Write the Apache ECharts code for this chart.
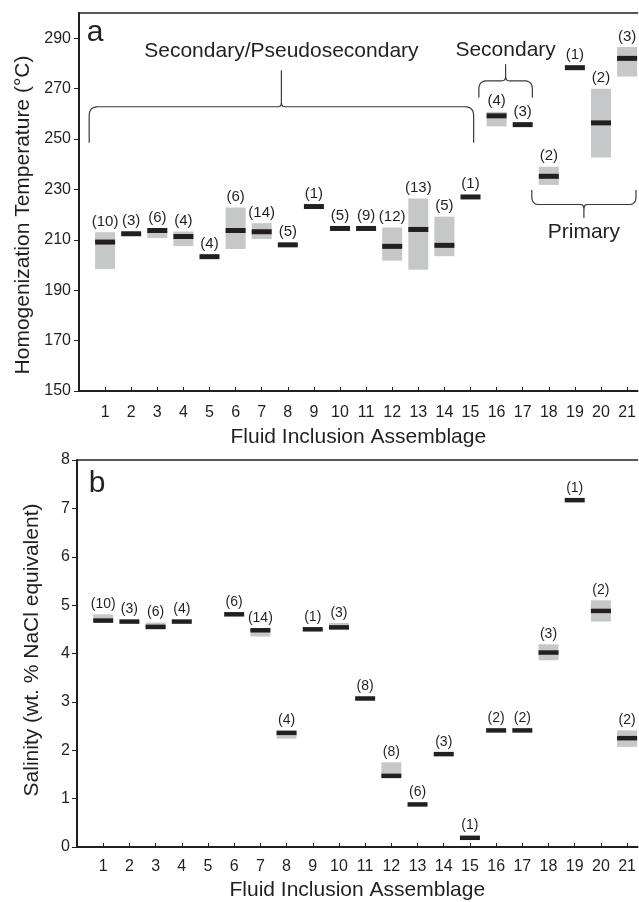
<!DOCTYPE html>
<html>
<head>
<meta charset="utf-8">
<script src="https://cdn.jsdelivr.net/npm/echarts@6/dist/echarts.min.js"></script>
<style>
  html, body { margin: 0; padding: 0; background: #fff; }
  #chart { width: 639px; height: 902px; }
</style>
</head>
<body>
<div id="chart"></div>
<script>
// fluid inclusion assemblages (FIA) 1..21
const fia = [1, 2, 3, 4, 5, 6, 7, 8, 9, 10, 11, 12, 13, 14, 15, 16, 17, 18, 19, 20, 21]

// (a) homogenization temperature, mean + range, n = number of inclusions
const tempMean = [209.1, 212.4, 213.7, 211.3, 203.3, 213.7, 213.2, 208.0, 223.2, 214.5, 214.5, 207.4, 214.1, 207.8, 227.0, 259.2, 255.7, 235.2, 278.3, 256.4, 282.0]
const tempLow  = [198.4, null, 210.7, 207.5, null, 206.3, 210.3, null, null, null, null, 201.7, 198.1, 203.5, null, 255.0, null, 231.8, null, 242.7, 274.8]
const tempHigh = [213.0, null, 214.6, 213.3, null, 222.8, 216.6, null, null, null, null, 214.9, 226.4, 219.2, null, 260.8, null, 239.0, null, 269.9, 286.5]
const tempN    = [10, 3, 6, 4, 4, 6, 14, 5, 1, 5, 9, 12, 13, 5, 1, 4, 3, 2, 1, 2, 3]
const tempTicks = [150, 170, 190, 210, 230, 250, 270, 290]

// (b) salinity, wt.% NaCl equivalent (FIA 5 has no data)
const salMean = [4.68, 4.66, 4.55, 4.66, null, 4.81, 4.48, 2.36, 4.50, 4.54, 3.07, 1.47, 0.88, 1.92, 0.19, 2.41, 2.41, 4.02, 7.17, 4.88, 2.25]
const salLow  = [4.66, null, 4.50, null, null, null, 4.35, 2.24, null, 4.50, null, 1.45, null, null, null, null, null, 3.86, null, 4.66, 2.07]
const salHigh = [4.81, null, 4.64, null, null, null, 4.52, 2.38, null, 4.63, null, 1.75, null, null, null, null, null, 4.19, null, 5.10, 2.41]
const salN    = [10, 3, 6, 4, null, 6, 14, 4, 1, 3, 8, 8, 6, 3, 1, 2, 2, 3, 1, 2, 2]

// inclusion type groups in panel a (x from/to, bracket level, tip, ends)
const groups = [
  { name: 'Secondary/Pseudosecondary', from: 0.39, to: 15.12, level: 262.8, tip: 277.3, end: 248.5, labelY: 284.9 },
  { name: 'Secondary', from: 15.32, to: 17.37, level: 273.1, tip: 279.7, end: 266.5, labelY: 285.3 },
  { name: 'Primary', from: 17.35, to: 21.34, level: 224.0, tip: 218.7, end: 229.8, labelY: 213.0 }
]

const ink = '#231f20'
const grey = '#c6c7c9'
const font = '"Liberation Sans", Arial, Helvetica, sans-serif'

function rows(mean, low, high, n) {
  return fia
    .map((f, i) => [f, mean[i], low[i] == null ? '-' : low[i], high[i] == null ? '-' : high[i], n[i]])
    .filter(r => r[1] != null)
}

function rangeBar(barH, labelSize) {
  return function (params, api) {
    const x = api.value(0)
    const c = api.coord([x, api.value(1)])
    const w = 20
    const kids = []
    let top = c[1] - barH / 2
    const lo = api.value(2)
    const hi = api.value(3)
    if (!isNaN(lo) && !isNaN(hi)) {
      const a = api.coord([x, hi])
      const b = api.coord([x, lo])
      kids.push({ type: 'rect', shape: { x: c[0] - w / 2, y: a[1], width: w, height: b[1] - a[1] }, style: { fill: grey } })
      top = Math.min(top, a[1])
    }
    kids.push({ type: 'rect', shape: { x: c[0] - w / 2, y: c[1] - barH / 2, width: w, height: barH }, style: { fill: ink } })
    kids.push({
      type: 'text', x: c[0], y: top - 3,
      style: { text: '(' + api.value(4) + ')', fill: ink, fontSize: labelSize, fontFamily: font, align: 'center', verticalAlign: 'bottom' }
    })
    return { type: 'group', children: kids }
  }
}

function xAxes(gridIndex, labelMargin, nameGap) {
  return [{
    type: 'value', gridIndex, min: 0, max: 21.4, position: 'bottom',
    axisLine: { show: true, onZero: false, lineStyle: { color: ink, width: 2 } },
    axisTick: { show: true, inside: true, length: 4, customValues: fia, lineStyle: { color: ink, width: 1 } },
    axisLabel: { customValues: fia, margin: labelMargin, color: ink, fontSize: 16, fontFamily: font },
    splitLine: { show: false },
    name: 'Fluid Inclusion Assemblage', nameLocation: 'middle', nameGap,
    nameTextStyle: { color: ink, fontSize: 21, fontFamily: font }
  }, {
    type: 'value', gridIndex, min: 0, max: 21.4, position: 'top',
    axisLine: { show: true, onZero: false, lineStyle: { color: ink, width: 1.5 } },
    axisTick: { show: false }, axisLabel: { show: false }, splitLine: { show: false }
  }]
}

const chart = echarts.init(document.getElementById('chart'), null, { renderer: 'canvas' })
chart.setOption({
  animation: false,
  backgroundColor: '#fff',
  grid: [
    { left: 79, right: 0, top: 13, height: 378 },
    { left: 77, right: 0, top: 460, height: 387 }
  ],
  xAxis: [...xAxes(0, 14, 36), ...xAxes(1, 12, 33)],
  yAxis: [{
    type: 'value', gridIndex: 0, min: 150, max: 300,
    axisLine: { show: true, onZero: false, lineStyle: { color: ink, width: 2 } },
    axisTick: { show: true, length: 5, customValues: tempTicks, lineStyle: { color: ink, width: 1 } },
    axisLabel: { customValues: tempTicks, margin: 8, color: ink, fontSize: 16, fontFamily: font },
    splitLine: { show: false }
  }, {
    type: 'value', gridIndex: 1, min: 0, max: 8, interval: 1,
    axisLine: { show: true, onZero: false, lineStyle: { color: ink, width: 2 } },
    axisTick: { show: true, length: 5, lineStyle: { color: ink, width: 1 } },
    axisLabel: { margin: 7, color: ink, fontSize: 16, fontFamily: font },
    splitLine: { show: false }
  }],
  series: [{
    type: 'custom', xAxisIndex: 0, yAxisIndex: 0,
    renderItem: rangeBar(5, 15),
    encode: { x: 0, y: [1, 2, 3] },
    data: rows(tempMean, tempLow, tempHigh, tempN)
  }, {
    type: 'custom', xAxisIndex: 2, yAxisIndex: 1,
    renderItem: rangeBar(4.5, 14),
    encode: { x: 0, y: [1, 2, 3] },
    data: rows(salMean, salLow, salHigh, salN)
  }]
})

// curly brackets + labels for panel a, placed in data space
const px = p => chart.convertToPixel({ seriesIndex: 0 }, p)

// quadratic curve from p0 via control c to p1, as points
function quad(p0, c, p1) {
  const pts = []
  for (let i = 1; i <= 8; i++) {
    const t = i / 8
    const u = 1 - t
    pts.push([u * u * p0[0] + 2 * u * t * c[0] + t * t * p1[0], u * u * p0[1] + 2 * u * t * c[1] + t * t * p1[1]])
  }
  return pts
}

function braceLines(g) {
  const [x0, yh] = px([g.from, g.level])
  const x1 = px([g.to, g.level])[0]
  const xm = (x0 + x1) / 2
  const yt = px([g.from, g.tip])[1]
  const ye = px([g.from, g.end])[1]
  const d = Math.sign(ye - yh)
  const r = Math.min(9, Math.abs(ye - yh) / 2)
  const s = 4
  let left = [[x0, ye], [x0, yh + d * r]]
  left = left.concat(quad([x0, yh + d * r], [x0, yh], [x0 + r, yh]))
  left.push([xm - s, yh])
  left = left.concat(quad([xm - s, yh], [xm, yh], [xm, yh - d * s]))
  left.push([xm, yt])
  let right = [[xm, yh - d * s]]
  right = right.concat(quad([xm, yh - d * s], [xm, yh], [xm + s, yh]))
  right.push([x1 - r, yh])
  right = right.concat(quad([x1 - r, yh], [x1, yh], [x1, yh + d * r]))
  right.push([x1, ye])
  const st = { stroke: '#3a3a3a', lineWidth: 1.2, fill: null }
  return [
    { type: 'polyline', shape: { points: left }, style: st },
    { type: 'polyline', shape: { points: right }, style: st }
  ]
}

function text(t, x, y, size, extra) {
  return Object.assign({
    type: 'text', x, y,
    style: { text: t, fill: ink, fontSize: size, fontFamily: font, align: 'center', verticalAlign: 'middle', textAlign: 'center', textVerticalAlign: 'middle' }
  }, extra || {})
}

const graphics = []
groups.forEach(g => {
  braceLines(g).forEach(l => graphics.push(l))
  const c = px([(g.from + g.to) / 2, g.labelY])
  graphics.push(text(g.name, c[0], c[1], 21))
})
graphics.push(text('a', 95, 33, 30))
graphics.push(text('b', 97, 484, 30))
graphics.push(text('Homogenization Temperature (°C)', 23, 215, 21, { rotation: Math.PI / 2 }))
graphics.push(text('Salinity (wt. % NaCl equivalent)', 32, 650, 21, { rotation: Math.PI / 2 }))

chart.setOption({ graphic: { elements: graphics } })
</script>
</body>
</html>
